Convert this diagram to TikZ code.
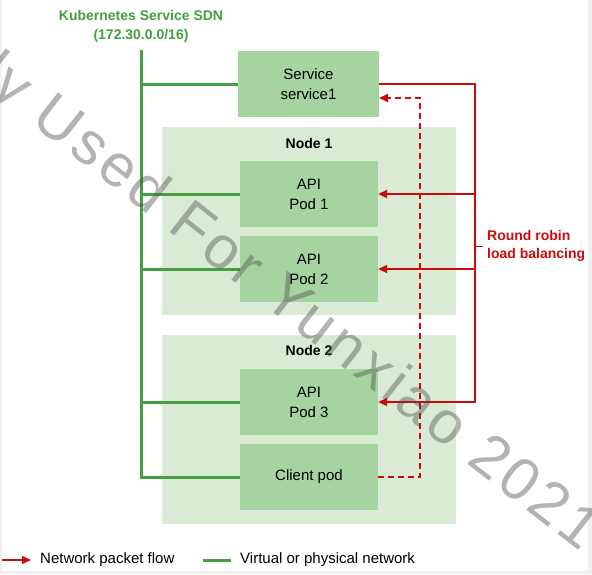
\documentclass[tikz,border=0pt]{standalone}
\usepackage{fontspec}
\setmainfont{Liberation Sans}
\newfontfamily\wmfont[LetterSpace=7]{Liberation Sans}
\usetikzlibrary{arrows.meta}
\definecolor{sdngreen}{RGB}{68,160,62}
\definecolor{podfill}{RGB}{166,212,160}
\definecolor{nodefill}{RGB}{217,235,213}
\definecolor{flowred}{RGB}{204,10,10}
\definecolor{framegray}{RGB}{240,240,240}
\tikzset{
  host/.style={fill=nodefill, minimum width=294pt, inner sep=0pt},
  hostlabel/.style={font=\fontsize{14}{18}\selectfont\bfseries},
  pod/.style={fill=podfill, minimum width=138pt, minimum height=66pt, inner sep=0pt,
    align=center, font=\fontsize{15}{20}\selectfont},
  title/.style={align=center, text=sdngreen, font=\fontsize{14}{19}\selectfont\bfseries},
  rrlabel/.style={align=left, text=flowred, inner xsep=4pt, font=\fontsize{14}{18}\selectfont\bfseries},
  legend/.style={inner xsep=9pt, font=\fontsize{15}{18}\selectfont},
  net/.style={draw=sdngreen, line width=3pt},
  flow/.style={draw=flowred, line width=1.8pt},
  pkt/.style={flow, -{Triangle[length=9pt,width=8pt]}},
  watermark/.style={text=black!70, opacity=0.42, font=\wmfont\fontsize{60}{64}\selectfont},
}
\begin{document}
\begin{tikzpicture}[x=1pt,y=-1pt]
  \fill[framegray] (0,0) rectangle (592,574);
  \fill[white] (2,0) rectangle (588,571);
  \useasboundingbox (0,0) rectangle (592,574);

  % hosts
  \node[host, minimum height=188pt] (node1) at (309,221) {};
  \node[hostlabel] (node1lbl) at (309,143) {Node 1};
  \node[host, minimum height=189pt] (node2) at (309,429.5) {};
  \node[hostlabel] (node2lbl) at (309,350) {Node 2};

  % service and pods
  \node[pod, minimum width=141pt] (svc) at (308.5,84) {Service\\service1};
  \node[pod] (pod1) at (309,194) {API\\Pod 1};
  \node[pod] (pod2) at (309,269) {API\\Pod 2};
  \node[pod] (pod3) at (309,402) {API\\Pod 3};
  \node[pod] (client) at (309,477) {Client pod};

  % service network
  \node[title] (sdn) at (141,26) {Kubernetes Service SDN\\(172.30.0.0/16)};
  \coordinate (busTop) at (141,50);
  \begin{scope}[net]
    \draw (busTop) |- (client.west);
    \draw (busTop |- svc.west) -- (svc.west);
    \draw (busTop |- pod1.west) -- (pod1.west);
    \draw (busTop |- pod2.west) -- (pod2.west);
    \draw (busTop |- pod3.west) -- (pod3.west);
  \end{scope}

  % round robin
  \coordinate (rr) at (475,84);
  \node[rrlabel, anchor=west] (rrlbl) at (483,246) {Round robin\\load balancing};
  \begin{scope}[pkt]
    \draw (svc.east) -- (rr) |- (pod3.east);
    \draw (rr |- pod1.east) -- (pod1.east);
    \draw (rr |- pod2.east) -- (pod2.east);
  \end{scope}
  \draw[flow, line width=1pt] (rr |- rrlbl.west) -- (rrlbl.west);

  % client request
  \coordinate (svcIn) at (379,98);
  \draw[pkt, dash pattern=on 6pt off 4pt] (client.east) -- ++(42,0) |- (svcIn);

  % legend
  \coordinate (lgflowStart) at (2,560);
  \node[legend, anchor=west] (lgflow) at (31,560) {Network packet flow};
  \draw[pkt, line width=1.2pt] (lgflowStart) -- (lgflow.west);
  \coordinate (lgnetStart) at (203,560);
  \node[legend, anchor=west] (lgnet) at (231,560) {Virtual or physical network};
  \draw[net] (lgnetStart) -- (lgnet.west);

  % watermark
  \begin{scope}
    \clip (0,0) rectangle (592,574);
    \node[watermark, rotate=-38] (wm) at (253,277) {Only Used For Yunxiao 2021};
  \end{scope}
\end{tikzpicture}
\end{document}
